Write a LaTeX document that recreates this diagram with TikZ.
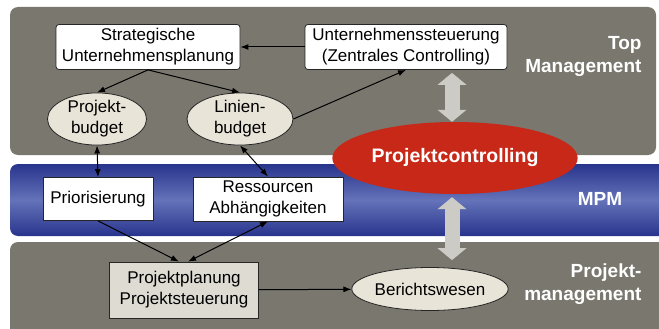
\documentclass[tikz,border=0pt]{standalone}
\usepackage{fontspec}
\setmainfont{Liberation Sans}
\usepackage{tikz}
\usetikzlibrary{shapes.geometric,arrows.meta}

\definecolor{bandgray}{RGB}{121,119,110}
\definecolor{banddark}{RGB}{40,52,140}
\definecolor{bandlight}{RGB}{100,115,185}
\definecolor{budgetfill}{RGB}{232,228,216}
\definecolor{planfill}{RGB}{222,219,211}
\definecolor{pcred}{RGB}{200,40,24}
\definecolor{fatgray}{RGB}{205,203,197}

\begin{document}
\begin{tikzpicture}[x=1pt,y=-1pt,
  every node/.style={font=\fontsize{17}{21}\selectfont},
  box/.style={draw=black!85,fill=white,line width=0.8pt,align=center,inner sep=0pt},
  budget/.style={ellipse,draw=black!85,fill=budgetfill,line width=0.8pt,align=center,inner sep=0pt},
  level/.style={text=white,font=\fontsize{19}{23}\selectfont\bfseries,align=right},
  link/.style={-{Latex[length=8pt,width=6pt]},line width=1pt},
  dlink/.style={{Latex[length=8pt,width=6pt]}-{Latex[length=8pt,width=6pt]},line width=1pt},
  fat/.style={draw=fatgray,line width=15pt,
    {Triangle[length=12pt,width=29pt,line width=0pt]}-{Triangle[length=12pt,width=29pt,line width=0pt]}}]

\useasboundingbox (0,0) rectangle (659,329);
\clip (0,0) rectangle (659,329);

\fill[bandgray,rounded corners=8pt] (10,7) rectangle (656,155);
\shade[rounded corners=8pt,top color=banddark,bottom color=banddark,middle color=bandlight] (10,164) rectangle (680,236);
\fill[bandgray,rounded corners=8pt] (10,242) rectangle (680,345);

\node[box,rounded corners=3pt,minimum width=184pt,minimum height=45pt] (strat) at (148,47) {Strategische\\Unternehmensplanung};
\node[box,rounded corners=3pt,minimum width=202pt,minimum height=45pt] (steuer) at (406,47) {Unternehmenssteuerung\\(Zentrales Controlling)};
\node[budget,minimum width=99pt,minimum height=45pt] (pbud) at (97,119) {Projekt-\\budget};
\node[budget,minimum width=106pt,minimum height=45pt] (lbud) at (240,119) {Linien-\\budget};
\node[ellipse,fill=pcred,minimum width=206pt,minimum height=72pt,text=white,font=\fontsize{19.5}{23}\selectfont\bfseries] (pc) at (455,158) {Projektcontrolling};
\node[box,minimum width=110pt,minimum height=43pt] (prio) at (98,199) {Priorisierung};
\node[box,minimum width=150pt,minimum height=44pt] (ress) at (268,199) {Ressourcen\\Abhängigkeiten};
\node[box,fill=planfill,minimum width=149pt,minimum height=56pt] (pplan) at (184,290) {Projektplanung\\Projektsteuerung};
\node[budget,minimum width=130pt,minimum height=43pt] (ber) at (430,289) {Berichtswesen};

\node[level,anchor=east] (toplbl) at (645,56) {Top\\Management};
\node[level] (mpm) at (600,199) {MPM};
\node[level,anchor=east] (pmlbl) at (645,284) {Projekt-\\management};

\draw[link] (steuer) -- (strat);
\draw[link] (strat.south) -- (pbud.north);
\draw[link] (strat.south) -- (lbud.north);
\draw[link] (lbud.east) -- (steuer.south);
\draw[dlink] (pbud.south) -- (prio.north);
\draw[dlink] (lbud.south) -- (ress.north);
\draw[link] (prio.south) -- ([xshift=-5pt]pplan.north);
\draw[dlink] ([xshift=4pt]pplan.north) -- (ress.south);
\draw[link] (pplan) -- (ber);

\draw[fat,shorten <=3pt] ([xshift=-3pt]pc.north |- steuer.south) -- ([xshift=-3pt]pc.north);
\draw[fat,shorten <=3pt,shorten >=7pt] ([xshift=-3pt]pc.south) -- ([xshift=-3pt]pc.south |- ber.north);
\end{tikzpicture}
\end{document}
